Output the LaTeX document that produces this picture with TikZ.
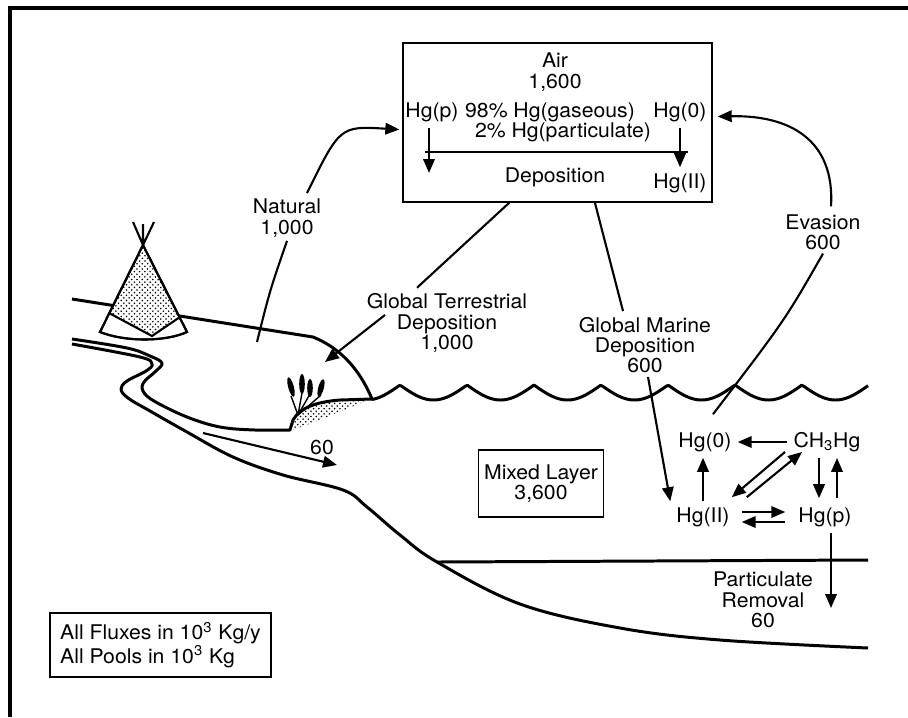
\documentclass[tikz,border=0pt]{standalone}
\usepackage{fontspec}
\setmainfont[FakeStretch=1.05]{TeX Gyre Heros}
\usetikzlibrary{arrows.meta, calc, patterns}

\begin{document}
\begin{tikzpicture}[x=0.02cm, y=-0.02cm,
  font=\fontsize{11.5}{11.6}\selectfont,
  coast/.style={line width=1.7pt, line join=round},
  link/.style={line width=1.2pt},
  flow/.style={line width=1.2pt, -{Triangle[length=2.8mm,width=2.3mm]}},
  pool/.style={draw, line width=0.8pt, align=center},
  lbl/.style={align=center, inner sep=2pt}]
  \useasboundingbox (0,0) rectangle (908,717);
  \draw[line width=2pt] (10,717) -- (10,8) -- (908,8);

  \draw[coast] (72,299) -- (313,337) .. controls (345,350) and (362,375) .. (372,399);
  \draw[coast] plot[domain=372:868, samples=240] (\x, {385+15*abs(sin(((\x-400)/67)*180))});
  \fill[pattern=crosshatch dots] (293,428) -- (293,420) .. controls (300,408) and (315,402) .. (340,400) -- (370,399) .. controls (345,410) and (320,420) .. (293,430) -- cycle;
  \draw[coast] plot[smooth, tension=0.6] coordinates {(72,339) (127,348) (150,356) (162,363) (156,371) (144,382) (143,391) (154,401) (187,417) (220,427) (255,430) (290,430)}
    -- (293,420) .. controls (300,408) and (315,402) .. (340,400) -- (372,399);
  \draw[coast] plot[smooth, tension=0.6] coordinates {(72,344) (140,357) (152,364) (146,371) (127,381) (121,389) (128,398) (150,411) (187,432) (233,457) (283,475) (343,490) (367,507) (400,535) (437,562) (520,604) (620,628) (720,640) (868,648)};
  \draw[coast] (437,562) -- (868,560);

  \draw[link, fill=white] (143,245) -- (100,332) .. controls (125,342) and (165,342) .. (187,332) -- cycle;
  \fill[pattern=crosshatch dots] (143,245) -- (109,313) -- (152,336) -- (180,317) -- cycle;
  \draw[link] (143,245) -- (100,332) .. controls (125,342) and (165,342) .. (187,332) -- cycle;
  \draw[link] (109,313) -- (152,336) -- (180,317);
  \draw[link] (143,245) -- (133,222) (143,245) -- (154,222) (143,245) -- (143,224);

  \draw[line width=0.8pt] (298,415) -- (291,396) (298,415) -- (302,393) (298,415) -- (310,394) (298,415) -- (321,395);
  \fill[rotate around={15:(291,387)}] (291,387) ellipse (2.8 and 10);
  \fill (302,384) ellipse (2.8 and 10);
  \fill (310,388) ellipse (2.8 and 9);
  \fill[rotate around={-15:(321,388)}] (321,388) ellipse (2.8 and 9);

  \node[pool, minimum width=6.18cm, minimum height=3.18cm] (air) at (557.5,122.5) {};
  \node[lbl] (airtxt) at (555,72) {Air\\1,600};
  \node (hgpa) at (432,112) {Hg(p)};
  \node (gas) at (550,112) {98\% Hg(gaseous)};
  \node (part) at (563,132) {2\% Hg(particulate)};
  \node (hg0a) at (680,112) {Hg(0)};
  \node (dep) at (555,177) {Deposition};
  \node (hg2a) at (680,183) {Hg(II)};
  \coordinate (pdrop) at (429,173);
  \coordinate (depL) at (425,152);
  \coordinate (depR) at (688,152);
  \draw[link] (depL) -- (depR);
  \draw[flow] (hgpa.south -| pdrop) -- (pdrop);
  \draw[flow] (hg0a.south) -- (hg2a.north);

  \node[lbl] (natural) at (287,218) {Natural\\1,000};
  \coordinate (natfoot) at (257,342);
  \draw[flow] ($(natural.north)+(20,-2)$) .. controls (340,126) .. ($(air.west)+(-3,7)$);
  \draw[link] (natural.south) .. controls (270,290) .. (natfoot);

  \node[lbl] (gterr) at (447,323) {Global Terrestrial\\Deposition\\1,000};
  \coordinate (landhit) at (325,362);
  \draw[link] (air.-121) -- ($(gterr.north)+(-30,-2)$);
  \draw[flow] ($(gterr.west)+(22,-8)$) -- (landhit);

  \node[lbl] (gmar) at (645,345) {Global Marine\\Deposition\\600};
  \draw[link] (air.-65) -- ($(gmar.north)+(-22,-2)$);

  \node[lbl] (evas) at (823,232) {Evasion\\600};
  \draw[flow] ($(evas.north)+(8,-4)$) .. controls (835,140) and (790,115) .. ($(air.east)+(5,-6)$);

  \node (hg0) at (705,442) {Hg(0)};
  \node (ch3) at (827,442) {CH\textsubscript{3}Hg};
  \node (hg2) at (703,517) {Hg(II)};
  \node (hgp) at (825,517) {Hg(p)};
  \draw[link] (evas.south) .. controls (785,320) .. ($(hg0.north)+(8,-12)$);
  \draw[flow] ($(gmar.south)+(3,0)$) -- (hg2.north west);
  \draw[flow] (ch3) -- (hg0);
  \draw[flow] (hg2.north) -- (hg2.north |- hg0.south);
  \draw[flow] ($(hg2.north east)+(11,-4)$) -- ($(ch3.south)+(-25,-6)$);
  \draw[flow] ($(ch3.south)+(-42,-6)$) -- ($(hg2.north east)+(-4,-4)$);
  \draw[flow] ($(hg2.east)+(6,-5)$) -- ($(hgp.west)+(-7,-5)$);
  \draw[flow] ($(hgp.west)+(-7,5)$) -- ($(hg2.east)+(6,5)$);
  \draw[flow] ($(ch3.south)+(-8,0)$) -- ($(hgp.north)+(-6,-3)$);
  \draw[flow] ($(hgp.north)+(12,-3)$) -- ($(ch3.south)+(10,0)$);

  \node[lbl] (prem) at (763,600) {Particulate\\Removal\\60};
  \coordinate (remend) at (831,608);
  \draw[flow] ($(hgp.south)+(6,0)$) -- (remend);

  \node[pool, minimum width=2.48cm, minimum height=1.34cm] (mixed) at (541,483.5) {Mixed Layer\\3,600};

  \node (sixty) at (322,447) {60};
  \coordinate (outA) at (203,433);
  \coordinate (outB) at (337,465);
  \draw[flow] (outA) -- (outB);

  \node[pool, align=left, minimum width=4.42cm, minimum height=1.28cm] (units) at (160.5,645) {All Fluxes in 10\textsuperscript{3} Kg/y\\All Pools in 10\textsuperscript{3} Kg};
\end{tikzpicture}
\end{document}
